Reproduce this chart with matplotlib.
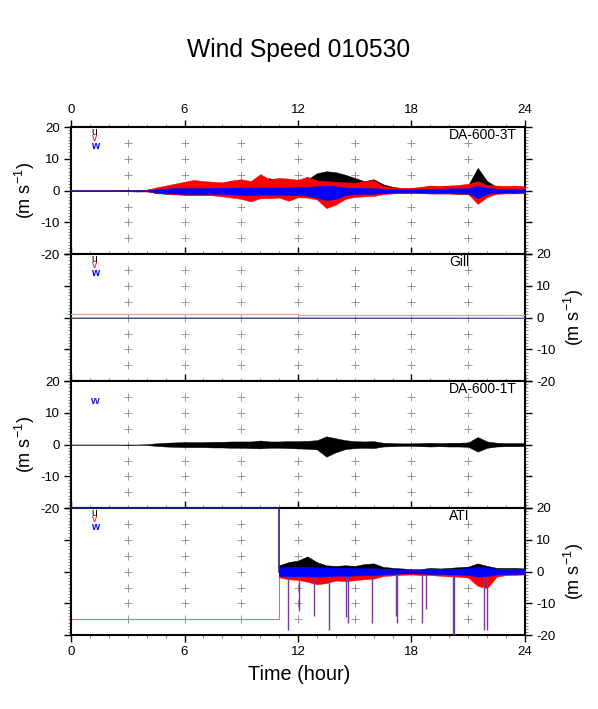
#!/usr/bin/env python3
import numpy as np
import matplotlib
matplotlib.use("Agg")
import matplotlib.pyplot as plt
from matplotlib.ticker import MultipleLocator, FuncFormatter

plt.rcParams["font.family"] = ["Liberation Sans", "DejaVu Sans"]
plt.rcParams["mathtext.default"] = "regular"

# sample times (hour), every half hour
hours = [0, 0.5, 1, 1.5, 2, 2.5, 3, 3.5, 4, 4.5, 5, 5.5, 6, 6.5, 7, 7.5, 8, 8.5,
         9, 9.5, 10, 10.5, 11, 11.5, 12, 12.5, 13, 13.5, 14, 14.5, 15, 15.5, 16,
         16.5, 17, 17.5, 18, 18.5, 19, 19.5, 20, 20.5, 21, 21.5, 22, 22.5, 23,
         23.5, 24]

# DA-600-3T envelopes (m/s)
u3_hi = [0.1, 0.1, 0.1, 0.1, 0.1, 0.2, 0.2, 0.2, 0.3, 0.8, 1.2, 2.0, 2.2, 2.5, 2.3,
         2.0, 2.5, 3.0, 3.2, 2.8, 3.5, 3.9, 3.0, 3.2, 3.5, 3.5, 5.5, 6.1, 5.8, 5.0,
         4.0, 3.0, 3.6, 2.0, 1.2, 0.8, 0.7, 1.0, 1.5, 1.3, 1.6, 1.5, 1.8, 7.2, 3.0,
         1.2, 1.0, 1.0, 0.9]
u3_lo = [-0.1] * 9 + [-0.8, -1.0, -1.2, -1.3, -1.3, -1.3, -1.3, -1.4, -1.6, -2.0,
         -2.4, -2.0, -2.0, -1.8, -2.2, -1.8, -1.8, -2.2, -3.5, -3.0, -1.8, -1.5,
         -1.4, -1.4, -0.9, -0.8, -0.7, -0.7, -0.8, -0.9, -0.9, -0.9, -1.0, -1.1,
         -3.0, -1.4, -0.9, -0.8, -0.8, -0.7]
v3_hi = [0.1] * 7 + [0.2, 0.3, 1.0, 1.6, 2.2, 2.8, 3.4, 3.0, 2.8, 2.6, 3.2, 3.6, 3.0,
         5.2, 3.6, 4.0, 3.8, 3.4, 4.4, 3.2, 3.0, 2.8, 2.6, 2.5, 3.0, 3.3, 1.5, 1.0,
         0.9, 0.9, 1.2, 1.6, 1.4, 1.6, 1.8, 2.2, 3.0, 1.8, 1.6, 1.5, 1.6, 1.4]
v3_lo = [-0.1] * 7 + [-0.2, -0.3, -0.6, -0.9, -1.1, -1.3, -1.4, -1.4, -1.5, -1.8,
         -2.2, -2.6, -3.4, -2.4, -2.4, -2.2, -3.2, -2.1, -2.2, -2.8, -5.5, -4.4,
         -2.6, -2.0, -1.8, -1.7, -1.1, -0.9, -0.8, -0.8, -0.8, -0.9, -0.9, -0.9,
         -1.0, -1.1, -4.2, -2.0, -1.0, -0.9, -0.9, -0.8]
w3_hi = [0.1] * 9 + [0.4, 0.6, 0.8, 0.8, 0.8, 0.8, 0.8, 0.9, 0.9, 1.0, 1.0, 1.0, 1.0,
         1.0, 1.0, 1.1, 1.2, 1.4, 1.6, 1.4, 1.0, 0.9, 0.8, 0.8, 0.6, 0.5, 0.4, 0.4,
         0.5, 0.6, 0.6, 0.7, 0.7, 0.8, 1.6, 0.9, 0.6, 0.5, 0.5, 0.5]
w3_lo = [-0.1, -0.1, -0.1, -0.1, -0.1, -0.1, -0.2, -0.3, -0.2, -0.5, -0.7, -0.9,
         -1.0, -1.0, -1.0, -1.0, -1.1, -1.2, -1.3, -1.4, -1.3, -1.3, -1.3, -1.4,
         -1.4, -1.6, -2.2, -3.0, -2.6, -1.4, -1.1, -1.0, -1.0, -0.7, -0.6, -0.5,
         -0.5, -0.6, -0.7, -0.7, -0.7, -0.8, -0.9, -2.4, -1.0, -0.7, -0.6, -0.6, -0.5]

# Gill: nearly flat lines
gill_hours = [0, 12, 12, 24]
gill_u = [0.0, 0.0, 0.0, 0.0]
gill_v = [1.0, 1.0, 0.7, 0.7]
gill_w = [-0.15, -0.15, -0.15, -0.2]

# DA-600-1T (u only)
d1_hi = [0.05] * 8 + [0.15, 0.4, 0.6, 0.7, 0.8, 0.8, 0.8, 0.9, 0.9, 1.0, 1.0, 1.0,
         1.3, 1.0, 1.0, 1.1, 1.1, 1.2, 1.4, 2.6, 2.0, 1.4, 1.1, 1.0, 1.1, 0.6, 0.5,
         0.4, 0.4, 0.5, 0.6, 0.5, 0.6, 0.6, 0.7, 2.4, 1.0, 0.6, 0.5, 0.5, 0.5]
d1_lo = [-0.05] * 8 + [-0.15, -0.4, -0.6, -0.7, -0.8, -0.8, -0.8, -0.9, -0.9, -1.0,
         -1.0, -1.1, -1.2, -1.0, -1.0, -1.1, -1.2, -1.3, -1.5, -3.8, -2.4, -1.4,
         -1.1, -1.0, -1.1, -0.6, -0.5, -0.4, -0.4, -0.5, -0.6, -0.5, -0.6, -0.6,
         -0.7, -2.2, -1.0, -0.6, -0.5, -0.5, -0.5]

# ATI: off-scale before 11 h, then turbulent data with dropouts
ati_pre_hours = [0, 11.0, 11.0]
ati_pre_w = [20, 20, 0]
ati_pre_v = [-15, -15, 0]
ati_hours = hours[22:]
ati_u_hi = [2.0, 3.0, 3.5, 4.8, 3.0, 2.0, 1.8, 2.0, 1.8, 2.4, 2.6, 1.5, 1.2, 1.0,
            0.8, 0.8, 1.2, 1.0, 1.2, 1.4, 1.6, 2.6, 1.8, 1.2, 1.2, 1.2, 1.0]
ati_u_lo = [-1.2, -1.4, -1.5, -1.6, -2.0, -2.5, -1.6, -1.5, -1.4, -1.3, -1.3, -1.0,
            -0.8, -0.7, -0.6, -0.7, -0.8, -0.9, -1.0, -1.0, -1.3, -2.0, -1.6, -1.0,
            -0.9, -0.9, -0.8]
ati_v_hi = [1.0, 1.2, 1.2, 1.2, 1.0, 1.0, 1.0, 1.0, 0.9, 0.9, 0.9, 0.8, 0.7, 0.6,
            0.5, 0.6, 0.7, 0.7, 0.8, 0.8, 0.9, 1.2, 1.0, 0.8, 0.8, 0.8, 0.7]
ati_v_lo = [-1.8, -2.4, -2.6, -3.2, -4.0, -3.6, -2.8, -3.0, -2.7, -2.4, -2.2, -1.4,
            -1.2, -1.0, -0.9, -1.1, -1.1, -1.3, -1.5, -1.6, -1.9, -4.5, -5.2, -1.6,
            -1.1, -1.0, -0.9]
ati_w_hi = [1.4, 1.6, 1.6, 1.5, 1.4, 1.3, 1.2, 1.2, 1.1, 1.1, 1.1, 0.9, 0.7, 0.6,
            0.5, 0.6, 0.7, 0.8, 0.9, 0.9, 1.1, 1.5, 1.3, 0.9, 0.8, 0.9, 0.7]
ati_w_lo = [-1.3, -1.5, -1.5, -1.5, -1.6, -1.5, -1.3, -1.3, -1.2, -1.1, -1.1, -0.9,
            -0.7, -0.6, -0.5, -0.6, -0.7, -0.8, -0.9, -0.9, -1.1, -1.6, -1.4, -0.9,
            -0.8, -0.8, -0.7]
spike_times = [11.49, 12.05, 12.85, 13.66, 14.54, 14.66, 15.93, 17.16, 17.25,
               18.57, 18.75, 20.18, 20.25, 21.83, 21.97]
spike_depths = [-18.2, -12.4, -14.1, -18.2, -14.4, -16.3, -16.3, -14.1, -16.0,
                -16.3, -11.8, -20.0, -20.0, -18.2, -18.2]

stations = ["DA-600-3T", "Gill", "DA-600-1T", "ATI"]
grid_x = [3, 6, 9, 12, 15, 18, 21]
grid_y = [-15, -10, -5, 0, 5, 10, 15]

RED = "#ff0000"
BLUE = "#0000ff"

W, H = 598, 709
fig = plt.figure(figsize=(W / 100, H / 100), dpi=100)
left, width = 71 / W, 454 / W
tops = [127, 254, 381, 508]
ph = 127.25
axes = []
for i, top in enumerate(tops):
    ax = fig.add_axes([left, 1 - (top + ph) / H, width, ph / H])
    axes.append(ax)

gx, gy = np.meshgrid(grid_x, grid_y)
for i, ax in enumerate(axes):
    ax.set_xlim(0, 24)
    ax.set_ylim(-20, 20)
    ax.plot(gx.ravel(), gy.ravel(), "+", color="#888888", ms=6, mew=0.6, zorder=1)
    ax.xaxis.set_major_locator(MultipleLocator(6))
    ax.xaxis.set_minor_locator(MultipleLocator(1))
    ax.yaxis.set_major_locator(MultipleLocator(10))
    ax.yaxis.set_minor_locator(MultipleLocator(1))
    ax.tick_params(which="both", direction="out", top=True, bottom=True,
                   left=True, right=True, labelsize=9.5, pad=3)
    ax.tick_params(which="major", length=5, width=1)
    ax.tick_params(which="minor", length=2.2, width=0.5, color="#555555")
    ax.tick_params(labeltop=(i == 0), labelbottom=(i == 3),
                   labelleft=(i % 2 == 0), labelright=(i % 2 == 1))
    ax.yaxis.set_major_formatter(FuncFormatter(lambda v, p: "%d" % v))
    for s in ax.spines.values():
        s.set_linewidth(1.5)
    ax.set_ylabel("(m s$^{-1}$)", fontsize=13)
    if i % 2 == 1:
        ax.yaxis.set_label_position("right")
        ax.yaxis.set_label_coords(1.081, 0.5)
    else:
        ax.yaxis.set_label_coords(-0.075, 0.5)
    ax.text(20.0, 17.6, stations[i], fontsize=10, ha="left", va="center", zorder=5)
    if i == 2:
        ax.text(1.25, 13.8, "w", color="#2020b0", fontsize=8, fontweight="bold",
                ha="center", va="center")
    else:
        ax.text(1.25, 18.4, "u", color="black", fontsize=7.5, ha="center", va="center")
        ax.text(1.25, 16.5, "v", color=RED, fontsize=7.5, ha="center", va="center")
        ax.text(1.25, 14.0, "w", color=BLUE, fontsize=7.5, fontweight="bold",
                ha="center", va="center")

# panel 1: DA-600-3T
ax = axes[0]
ax.fill_between(hours, u3_lo, u3_hi, color="black", lw=0.3, zorder=2)
ax.fill_between(hours, v3_lo, v3_hi, color=RED, lw=0.3, zorder=3)
ax.fill_between(hours, w3_lo, w3_hi, color=BLUE, lw=0.3, zorder=4)

# panel 2: Gill
ax = axes[1]
ax.plot(gill_hours, gill_u, color="black", lw=0.6, zorder=2)
ax.plot(gill_hours, gill_v, color="#e8a0a0", lw=0.9, zorder=3)
ax.plot(gill_hours, gill_w, color="#5060a8", lw=0.9, zorder=4)

# panel 3: DA-600-1T
ax = axes[2]
ax.fill_between(hours, d1_lo, d1_hi, color="black", lw=0.3, zorder=2)

# panel 4: ATI
ax = axes[3]
ax.plot(ati_pre_hours, ati_pre_v, color="#e07070", lw=0.8, zorder=2)
ax.plot(ati_pre_hours, ati_pre_w, color="#202080", lw=1.2, zorder=6, clip_on=False)
ax.fill_between(ati_hours, ati_u_lo, ati_u_hi, color="black", lw=0.3, zorder=2)
ax.fill_between(ati_hours, ati_v_lo, ati_v_hi, color=RED, lw=0.3, zorder=3)
ax.fill_between(ati_hours, ati_w_lo, ati_w_hi, color=BLUE, lw=0.3, zorder=4)
ax.vlines(spike_times, spike_depths, 0, color="#7a3a9a", lw=1.0, zorder=3)

fig.text(0.5, 1 - 50 / H, "Wind Speed 010530", ha="center", va="center", fontsize=17.7)
fig.text(0.5, 1 - 675 / H, "Time (hour)", ha="center", va="center", fontsize=14.3)

fig.savefig("out.png", dpi=100)
print("Saved: out.png")
